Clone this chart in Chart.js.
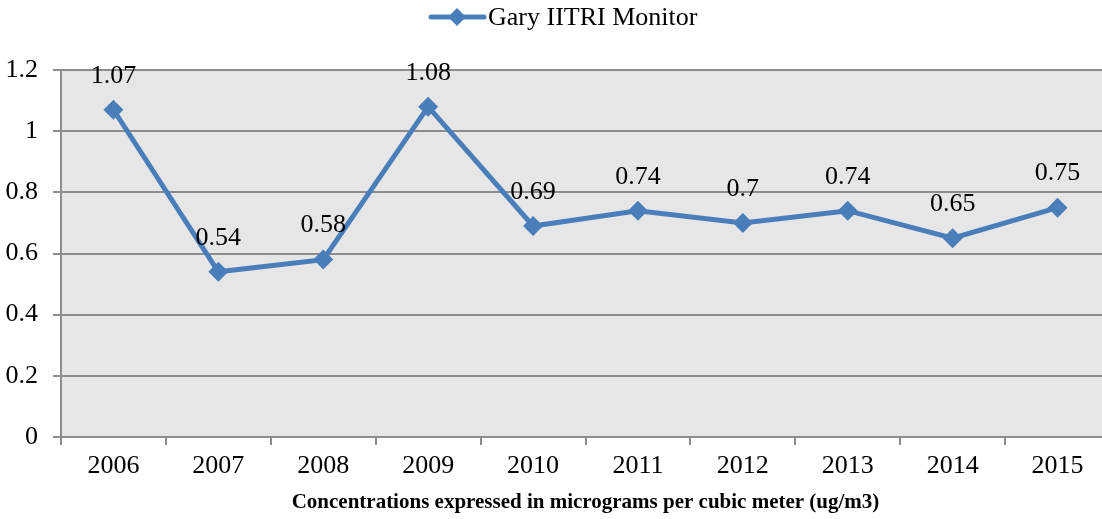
<!DOCTYPE html>
<html><head><meta charset="utf-8">
<script src="https://cdn.jsdelivr.net/npm/chart.js@4/dist/chart.umd.min.js"></script>
<style>html,body{margin:0;padding:0;background:#fff;overflow:hidden;width:1102px;height:519px}#wrap{width:1110px;height:519px}</style>
</head><body><div id="wrap"><canvas id="c" width="1110" height="519"></canvas></div>
<script>
const categories = ["2006","2007","2008","2009","2010","2011","2012","2013","2014","2015"];
const seriesName = "Gary IITRI Monitor";
const values = [1.07,0.54,0.58,1.08,0.69,0.74,0.7,0.74,0.65,0.75];
const yTicks = [0,0.2,0.4,0.6,0.8,1,1.2];
const xTitle = "Concentrations expressed in micrograms per cubic meter (ug/m3)";

const FONT = "'Liberation Serif', 'Times New Roman', serif";
const LINE = "#4a7ebb";

const bgPlugin = {
  id:'bg',
  beforeDraw(chart){
    const {ctx, chartArea:a} = chart;
    ctx.save(); ctx.fillStyle = '#e6e6e6';
    ctx.fillRect(a.left, a.top, a.right-a.left, a.bottom-a.top);
    ctx.restore();
  }
};
const labelPlugin = {
  id:'labels',
  afterDatasetsDraw(chart){
    const {ctx} = chart;
    const meta = chart.getDatasetMeta(0);
    ctx.save();
    ctx.font = "26px " + FONT; ctx.fillStyle = '#000';
    ctx.textAlign = 'center'; ctx.textBaseline = 'middle';
    meta.data.forEach((p,i)=>{ ctx.fillText(String(values[i]), p.x, p.y - 34); });
    ctx.restore();
  }
};
const legendPlugin = {
  id:'legendCustom',
  afterDraw(chart){
    const {ctx} = chart;
    ctx.save();
    const y = 17;
    ctx.strokeStyle = LINE; ctx.lineWidth = 5; ctx.lineCap='round';
    ctx.beginPath(); ctx.moveTo(431,y); ctx.lineTo(484,y); ctx.stroke();
    ctx.fillStyle = LINE;
    ctx.beginPath(); ctx.moveTo(457,y-9); ctx.lineTo(466,y); ctx.lineTo(457,y+9); ctx.lineTo(448,y); ctx.closePath(); ctx.fill();
    ctx.font = "26px " + FONT; ctx.fillStyle='#000'; ctx.textAlign='left'; ctx.textBaseline='middle';
    ctx.fillText(seriesName, 488, y+1);
    ctx.restore();
  }
};

new Chart(document.getElementById('c'), {
  type:'line',
  data:{ labels: categories, datasets:[{
    label: seriesName, data: values,
    borderColor: LINE, backgroundColor: LINE, borderWidth: 5,
    pointStyle:'rectRot', pointRadius: 10, pointHoverRadius: 10,
    pointBackgroundColor: LINE, pointBorderColor: LINE, pointBorderWidth: 0,
    tension: 0, clip: false
  }]},
  options:{
    responsive:false, animation:false, devicePixelRatio:1,
    layout:{ autoPadding:false, padding:{ top:70, right:0, left:0, bottom:4 } },
    plugins:{ legend:{display:false}, tooltip:{enabled:false} },
    scales:{
      x:{
        offset:true,
        grid:{ offset:true, drawOnChartArea:false, drawTicks:true, tickLength:8, color:'#8c8c8c', lineWidth:2 },
        border:{ display:true, color:'#8c8c8c', width:2 },
        ticks:{ font:{family:FONT, size:26}, color:'#000', padding:6, maxRotation:0, autoSkip:false },
        title:{ display:true, text:xTitle, font:{family:FONT, size:21, weight:'bold'}, color:'#000', padding:{top:0,bottom:0} },
        afterFit(axis){ axis.paddingLeft = 0; axis.paddingRight = 0; axis.height = 78; }
      },
      y:{
        min:0, max:1.2,
        afterBuildTicks(axis){ axis.ticks = yTicks.map(v=>({value:v})); },
        grid:{ color:'#8c8c8c', lineWidth:2, tickLength:8, drawTicks:true },
        border:{ display:true, color:'#8c8c8c', width:2 },
        ticks:{ font:{family:FONT, size:26}, color:'#000', padding:15, callback:v=>String(v) },
        afterFit(axis){ axis.width = 61; axis.paddingTop = 0; axis.paddingBottom = 0; }
      }
    }
  },
  plugins:[bgPlugin, labelPlugin, legendPlugin]
});
</script></body></html>
